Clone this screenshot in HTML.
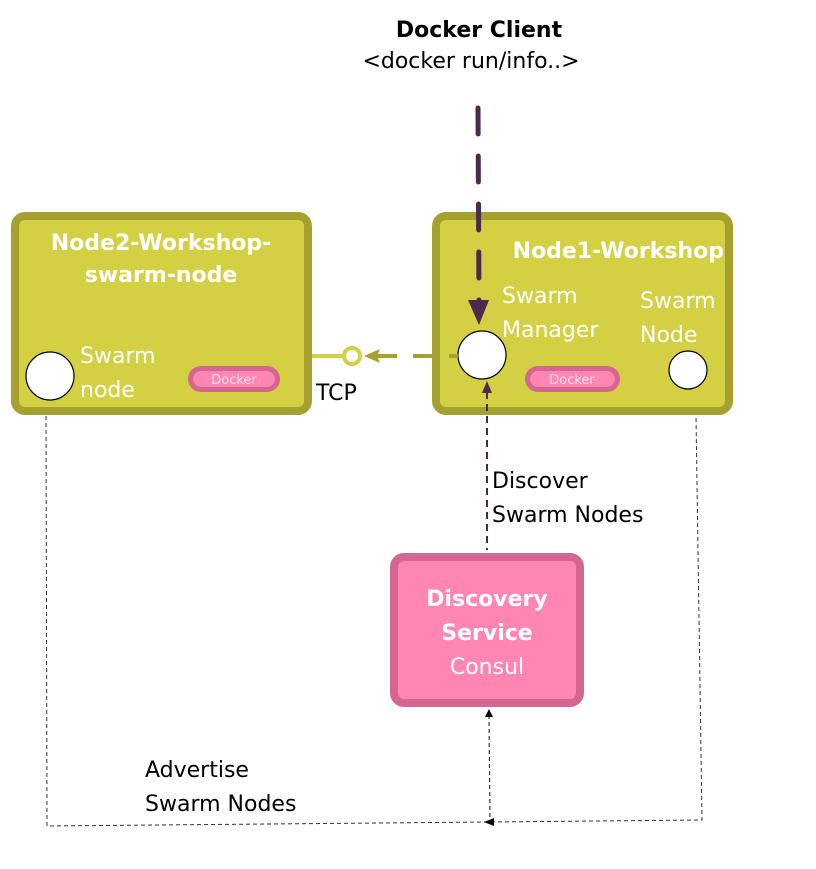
<!DOCTYPE html>
<html><head><meta charset="utf-8"><style>
html,body{margin:0;padding:0;background:#fff;}
svg{display:block;}
text{font-family:"DejaVu Sans","Liberation Sans",sans-serif;}
</style></head><body>
<svg width="816" height="869" viewBox="0 0 816 869" xmlns="http://www.w3.org/2000/svg">
<text x="479" y="37" font-size="22" font-weight="bold" text-anchor="middle" fill="#000">Docker Client</text>
<text x="471" y="68" font-size="22" text-anchor="middle" fill="#000">&lt;docker run/info..&gt;</text>

<rect x="15" y="216" width="293" height="195" rx="10" fill="#d4d043" stroke="#a6a12f" stroke-width="8"/>
<text x="161" y="250" font-size="22" font-weight="bold" fill="#fff" text-anchor="middle">Node2-Workshop-</text>
<text x="161" y="282" font-size="22" font-weight="bold" fill="#fff" text-anchor="middle">swarm-node</text>
<circle cx="50" cy="376" r="24" fill="#fff" stroke="#000" stroke-width="1.2"/>
<text x="80" y="363" font-size="22" fill="#fff">Swarm</text>
<text x="80" y="397" font-size="22" fill="#fff">node</text>
<rect x="188" y="366" width="92" height="26" rx="13" fill="#d4668f"/>
<rect x="193" y="371" width="82" height="16" rx="8" fill="#ff85b3"/>
<text x="234" y="384" font-size="13" fill="#fde" text-anchor="middle">Docker</text>

<rect x="436" y="216" width="293" height="195" rx="10" fill="#d4d043" stroke="#a6a12f" stroke-width="8"/>
<text x="724" y="258" font-size="22" font-weight="bold" fill="#fff" text-anchor="end">Node1-Workshop</text>
<text x="502" y="303" font-size="22" fill="#fff">Swarm</text>
<text x="502" y="337" font-size="22" fill="#fff">Manager</text>
<text x="640" y="308" font-size="22" fill="#fff">Swarm</text>
<text x="640" y="342" font-size="22" fill="#fff">Node</text>
<circle cx="482" cy="355" r="24" fill="#fff" stroke="#000" stroke-width="1.2"/>
<circle cx="688" cy="370" r="19" fill="#fff" stroke="#000" stroke-width="1.2"/>
<rect x="525" y="366" width="95" height="26" rx="13" fill="#d4668f"/>
<rect x="530" y="371" width="85" height="16" rx="8" fill="#ff85b3"/>
<text x="572" y="384" font-size="13" fill="#fde" text-anchor="middle">Docker</text>

<line x1="478" y1="108" x2="479" y2="300" stroke="#4a2a4f" stroke-width="5" stroke-linecap="round" stroke-dasharray="26 22"/>
<polygon points="468,300 489,300 479,325" fill="#4a2a4f"/>

<line x1="312" y1="356" x2="344" y2="356" stroke="#d4d043" stroke-width="4"/>
<circle cx="352" cy="356" r="8" fill="#fff" stroke="#d4d043" stroke-width="4"/>
<polygon points="364,356 380,349 377,356 380,363" fill="#a6a12f"/>
<line x1="377" y1="356" x2="458" y2="356" stroke="#a6a12f" stroke-width="4" stroke-dasharray="20 16"/>
<text x="316" y="400" font-size="22" fill="#000">TCP</text>

<line x1="487" y1="392" x2="487" y2="550" stroke="#4a2a4f" stroke-width="2" stroke-dasharray="7 5"/>
<polygon points="482,393 492,393 487,381" fill="#4a2a4f"/>
<text x="492" y="488" font-size="22" fill="#000">Discover</text>
<text x="492" y="522" font-size="22" fill="#000">Swarm Nodes</text>

<rect x="394" y="557" width="186" height="146" rx="10" fill="#ff85b3" stroke="#d4668f" stroke-width="8"/>
<text x="487" y="606" font-size="22" font-weight="bold" fill="#fff" text-anchor="middle">Discovery</text>
<text x="487" y="640" font-size="22" font-weight="bold" fill="#fff" text-anchor="middle">Service</text>
<text x="487" y="674" font-size="22" fill="#fff" text-anchor="middle">Consul</text>

<polyline points="46,416 47,826 490,822 702,820 696,416" fill="none" stroke="#333" stroke-width="1" stroke-dasharray="4 3"/>
<line x1="489" y1="715" x2="490" y2="822" stroke="#333" stroke-width="1.2" stroke-dasharray="4 3"/>
<polygon points="485,717 493,717 489,709" fill="#000"/>
<polygon points="484,822 494,818 494,826" fill="#000"/>
<text x="145" y="777" font-size="22" fill="#000">Advertise</text>
<text x="145" y="811" font-size="22" fill="#000">Swarm Nodes</text>
</svg>
</body></html>
